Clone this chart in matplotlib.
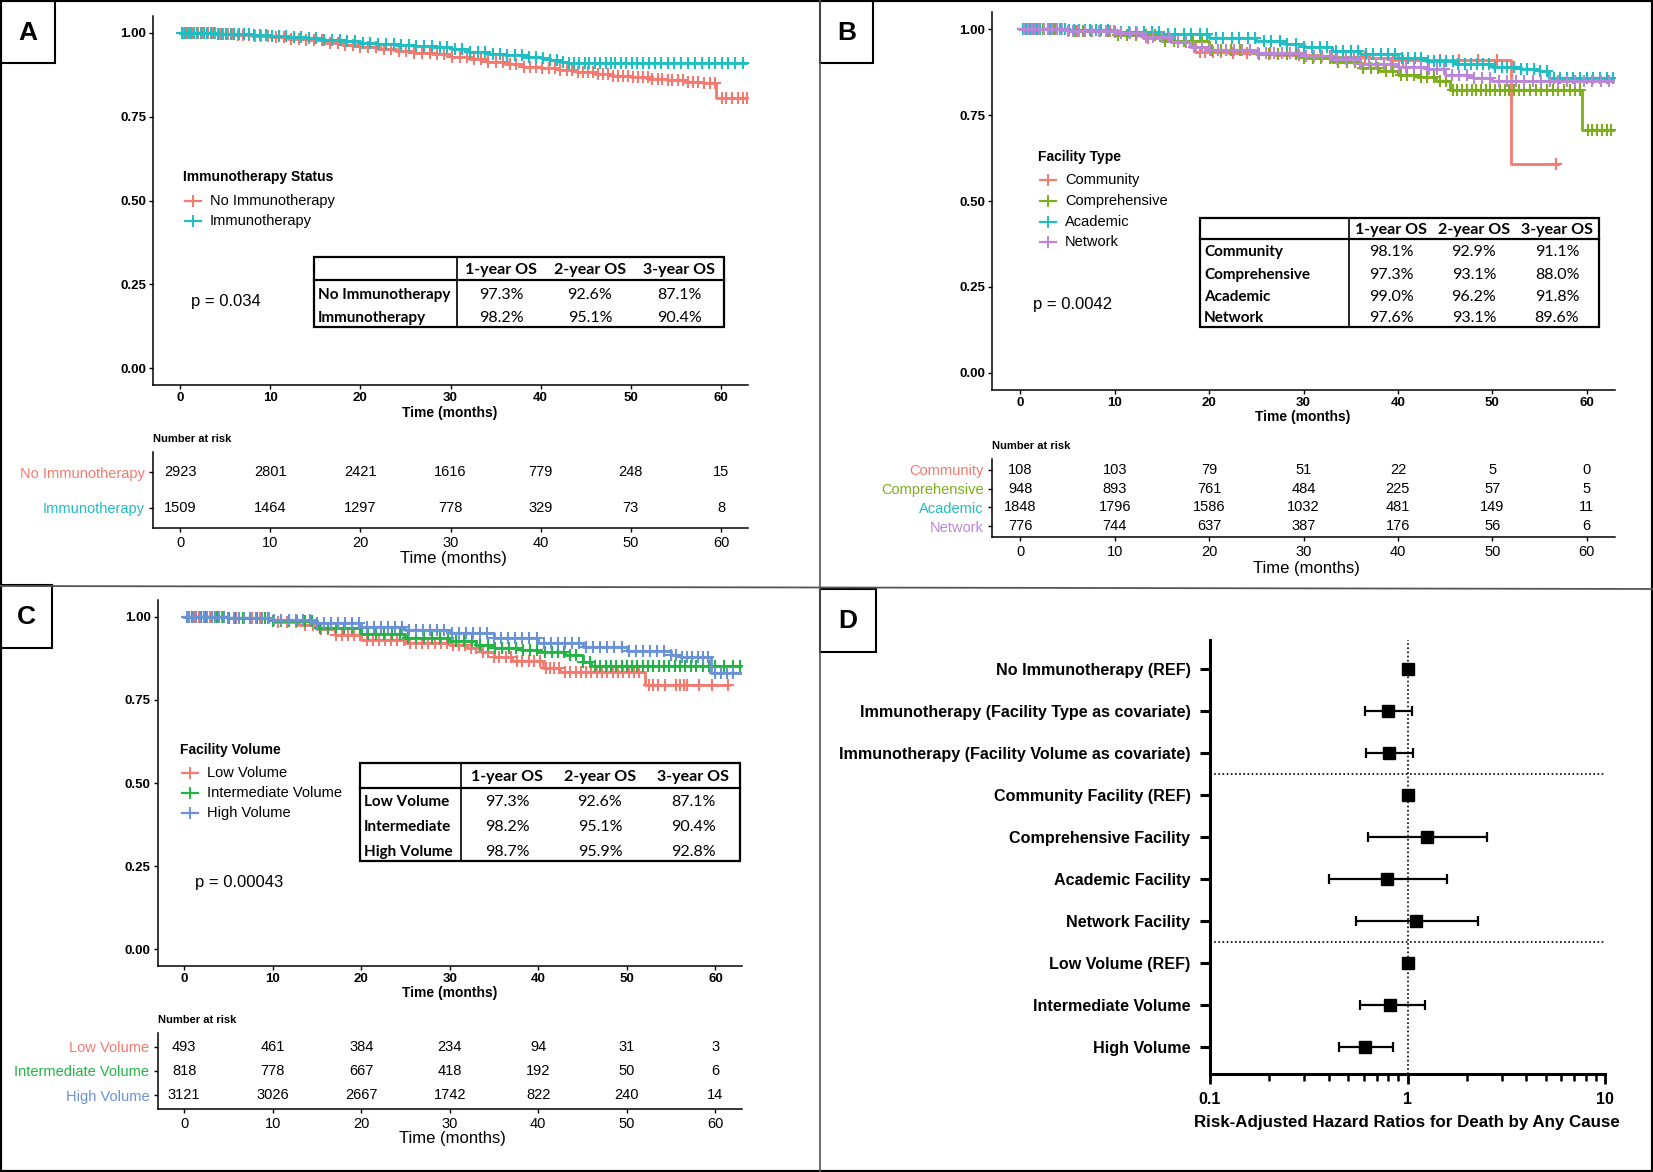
import numpy as np
import matplotlib.pyplot as plt
from matplotlib.lines import Line2D
from matplotlib.patches import Rectangle

plt.rcParams['font.family'] = ['Liberation Sans', 'DejaVu Sans']
TABLE_FONT = ['Lato', 'Liberation Sans', 'DejaVu Sans']

W, H = 1653, 1172

# -----------------------------
# Data: panel A (immunotherapy)
# -----------------------------
a_groups = ["No Immunotherapy", "Immunotherapy"]
a_colors = ["#F37A70", "#1FBEC3"]
a_t_no = [0, 2, 4, 6, 8, 10, 12, 14, 16, 18, 20, 22, 24, 26, 28, 30, 32, 34, 36, 38, 40,
          42, 44, 46, 48, 50, 52, 54, 56, 58, 59.5, 63]
a_s_no = [1.0, 0.998, 0.995, 0.992, 0.989, 0.986, 0.982, 0.977, 0.971, 0.964, 0.957, 0.951,
          0.946, 0.941, 0.936, 0.929, 0.921, 0.913, 0.906, 0.899, 0.894, 0.889, 0.883, 0.876,
          0.871, 0.867, 0.862, 0.858, 0.852, 0.849, 0.806, 0.806]
a_c_no = [0.3, 0.7, 1.0, 1.3, 1.6, 2.0, 2.4, 2.7, 3.1, 3.5, 3.9, 4.4, 4.8, 5.3, 5.9, 6.4, 7.0,
          7.7, 8.3, 9.0, 9.8, 10.6, 11.5, 12.3, 13.2, 14.0, 14.9, 15.8, 16.6, 17.5, 18.3, 19.2,
          20.0, 20.9, 21.7, 22.6, 23.4, 24.3, 25.1, 26.0, 26.8, 27.7, 28.5, 29.3, 30.2, 31.0,
          31.8, 32.6, 33.4, 34.2, 35.0, 35.8, 36.6, 37.3, 38.1, 38.8, 39.5, 40.2, 40.9, 41.6,
          42.2, 42.9, 43.5, 44.1, 44.7, 45.3, 45.8, 46.4, 46.9, 47.5, 48.0, 48.6, 49.1, 49.7,
          50.2, 50.8, 51.3, 51.9, 52.4, 53.0, 53.5, 54.1, 54.6, 55.2, 55.8, 56.3, 56.9, 57.5,
          58.1, 58.8, 59.3, 60.1, 60.6, 61.2, 61.9, 62.5, 62.9]
a_t_im = [0, 2, 4, 6, 8, 10, 12, 14, 16, 18, 20, 22, 24, 26, 28, 30, 32, 34, 36, 38, 40,
          41, 42, 43, 63]
a_s_im = [1.0, 0.999, 0.997, 0.995, 0.993, 0.991, 0.988, 0.984, 0.979, 0.974, 0.970, 0.967,
          0.965, 0.962, 0.958, 0.952, 0.944, 0.938, 0.933, 0.929, 0.924, 0.918, 0.912, 0.909, 0.909]
a_c_im = [0.2, 0.5, 0.9, 1.2, 1.6, 1.9, 2.3, 2.7, 3.0, 3.4, 3.8, 4.2, 4.7, 5.1, 5.6, 6.0, 6.5,
          7.1, 7.6, 8.2, 8.9, 9.5, 10.2, 11.0, 11.8, 12.6, 13.4, 14.3, 15.1, 16.0, 16.8, 17.7,
          18.5, 19.4, 20.3, 21.1, 22.0, 22.8, 23.7, 24.5, 25.4, 26.2, 27.1, 27.9, 28.8, 29.6,
          30.5, 31.3, 32.2, 33.0, 33.8, 34.7, 35.5, 36.3, 37.1, 37.9, 38.7, 39.5, 40.3, 41.0,
          41.8, 42.5, 43.1, 43.7, 44.3, 44.9, 45.4, 46.0, 46.6, 47.2, 47.8, 48.3, 48.9, 49.5,
          50.1, 50.7, 51.4, 52.0, 52.7, 53.4, 54.1, 54.8, 55.6, 56.3, 57.1, 57.9, 58.7, 59.3,
          60.1, 60.8, 61.6, 62.4]
a_risk = [[2923, 2801, 2421, 1616, 779, 248, 15],
          [1509, 1464, 1297, 778, 329, 73, 8]]
a_table = [["97.3%", "92.6%", "87.1%"],
           ["98.2%", "95.1%", "90.4%"]]
a_p = "p = 0.034"

# -----------------------------
# Data: panel B (facility type)
# -----------------------------
b_groups = ["Community", "Comprehensive", "Academic", "Network"]
b_colors = ["#F37A70", "#7CAE1A", "#1FBEC3", "#BA86D6"]
b_t_com = [0, 5, 10, 13, 16, 18.5, 22, 27, 32, 37, 39.5, 52, 57]
b_s_com = [1.0, 0.995, 0.985, 0.975, 0.962, 0.935, 0.93, 0.925, 0.92, 0.915, 0.911, 0.608, 0.608]
b_c_com = [1.5, 3.5, 6, 9.5, 13.5, 19.0, 19.6, 20.4, 21.3, 22.5, 24.0, 26.5, 29.5, 33, 36.5,
           39.5, 40.5, 42.5, 44.5, 46.5, 48.5, 50.5, 56.8]
b_t_cmp = [0, 5, 10, 15, 20, 25, 30, 33, 36, 38, 40, 42, 44, 45.5, 59.5, 63]
b_s_cmp = [1.0, 0.995, 0.983, 0.965, 0.94, 0.927, 0.915, 0.905, 0.888, 0.877, 0.868, 0.86,
           0.848, 0.823, 0.707, 0.707]
b_c_cmp = [0.3, 0.8, 1.3, 1.8, 2.4, 3.0, 3.6, 4.3, 5.0, 5.8, 6.6, 7.5, 8.4, 9.3, 10.3, 11.3,
           12.3, 13.3, 14.3, 15.3, 16.3, 17.3, 18.3, 19.3, 20.3, 21.3, 22.3, 23.3, 24.3, 25.3,
           26.3, 27.3, 28.3, 29.2, 30.1, 31.0, 31.9, 32.8, 33.7, 34.6, 35.5, 36.3, 37.1, 37.9,
           38.7, 39.5, 40.3, 41.0, 41.7, 42.4, 43.1, 43.8, 44.5, 45.1, 45.8, 46.3, 46.8, 47.3,
           47.8, 48.3, 48.8, 49.3, 49.8, 50.3, 50.8, 51.3, 51.8, 52.3, 52.8, 53.4, 54.0, 54.6,
           55.2, 55.8, 56.4, 57.0, 57.6, 58.2, 58.8, 59.3, 60.1, 60.6, 61.1, 61.6, 62.1, 62.6]
b_t_aca = [0, 5, 10, 15, 20, 25, 28, 30, 33, 36, 40, 43, 46, 50, 53, 55, 56, 63]
b_s_aca = [1.0, 0.998, 0.993, 0.985, 0.975, 0.965, 0.957, 0.948, 0.937, 0.927, 0.916, 0.908,
           0.9, 0.891, 0.885, 0.877, 0.857, 0.857]
b_c_aca = [0.3, 0.6, 1.0, 1.3, 1.7, 2.1, 2.5, 2.9, 3.3, 3.8, 4.2, 4.7, 5.2, 5.7, 6.2, 6.8, 7.4,
           8.0, 8.6, 9.3, 10.0, 10.7, 11.5, 12.3, 13.1, 13.9, 14.7, 15.6, 16.4, 17.3, 18.1,
           19.0, 19.8, 20.7, 21.5, 22.4, 23.2, 24.1, 24.9, 25.8, 26.6, 27.5, 28.3, 29.2, 30.0,
           30.9, 31.7, 32.5, 33.4, 34.2, 35.0, 35.8, 36.6, 37.4, 38.2, 38.9, 39.7, 40.4, 41.1,
           41.8, 42.5, 43.2, 43.8, 44.5, 45.1, 45.8, 46.4, 47.1, 47.7, 48.4, 49.0, 49.7, 50.3,
           51.0, 51.6, 52.3, 53.0, 53.7, 54.4, 55.1, 55.8, 56.5, 57.2, 57.9, 58.6, 59.3, 60.0,
           60.7, 61.4, 62.1, 62.8]
b_t_net = [0, 5, 10, 13, 16, 18, 20, 25, 30, 33, 36, 40, 43, 45, 48, 50, 63]
b_s_net = [1.0, 0.996, 0.988, 0.978, 0.962, 0.948, 0.94, 0.932, 0.922, 0.912, 0.9, 0.891,
           0.883, 0.867, 0.857, 0.848, 0.848]
b_c_net = [0.4, 0.8, 1.2, 1.6, 2.0, 2.5, 2.9, 3.4, 3.9, 4.4, 5.0, 5.6, 6.2, 6.9, 7.6, 8.3, 9.1,
           9.9, 10.7, 11.6, 12.4, 13.3, 14.1, 15.0, 15.8, 16.7, 17.5, 18.4, 19.2, 20.1, 20.9,
           21.8, 22.6, 23.5, 24.3, 25.2, 26.0, 26.9, 27.7, 28.6, 29.4, 30.3, 31.1, 32.0, 32.8,
           33.6, 34.5, 35.3, 36.1, 36.9, 37.7, 38.5, 39.3, 40.1, 40.9, 41.7, 42.5, 43.3, 44.1,
           44.9, 45.7, 46.5, 47.3, 48.1, 48.9, 49.8, 50.7, 51.6, 52.5, 53.4, 54.3, 55.2, 56.1,
           57.0, 57.9, 58.8, 59.7, 60.6, 61.5, 62.4]
b_risk = [[108, 103, 79, 51, 22, 5, 0],
          [948, 893, 761, 484, 225, 57, 5],
          [1848, 1796, 1586, 1032, 481, 149, 11],
          [776, 744, 637, 387, 176, 56, 6]]
b_table = [["98.1%", "92.9%", "91.1%"],
           ["97.3%", "93.1%", "88.0%"],
           ["99.0%", "96.2%", "91.8%"],
           ["97.6%", "93.1%", "89.6%"]]
b_p = "p = 0.0042"

# -----------------------------
# Data: panel C (facility volume)
# -----------------------------
c_groups = ["Low Volume", "Intermediate Volume", "High Volume"]
c_rows = ["Low Volume", "Intermediate", "High Volume"]
c_colors = ["#F37A70", "#22B444", "#6A93D6"]
c_t_low = [0, 5, 10, 13, 15, 17, 20, 25, 30, 32, 33.5, 35, 37, 40.5, 42.5, 52, 61.5]
c_s_low = [1.0, 0.995, 0.985, 0.975, 0.962, 0.945, 0.93, 0.922, 0.915, 0.905, 0.893, 0.878,
           0.866, 0.845, 0.835, 0.796, 0.796]
c_c_low = [0.6, 1.1, 1.7, 2.3, 2.9, 3.6, 4.3, 5.1, 5.9, 6.8, 7.7, 8.6, 9.6, 10.6, 11.6, 12.6,
           13.6, 14.6, 15.5, 16.3, 17.1, 17.8, 18.5, 19.2, 19.9, 20.6, 21.3, 22.0, 22.7, 23.4,
           24.1, 24.8, 25.5, 26.2, 26.9, 27.6, 28.3, 29.0, 29.7, 30.4, 31.1, 31.7, 32.4, 33.0,
           33.7, 34.3, 35.0, 35.6, 36.3, 36.9, 37.6, 38.2, 38.9, 39.5, 40.2, 40.9, 41.3, 41.8,
           42.3, 43.0, 43.6, 44.2, 44.8, 45.4, 46.0, 46.6, 47.2, 47.8, 48.4, 49.0, 49.6, 50.2,
           50.8, 51.4, 52.5, 53.0, 53.5, 54.3, 55.6, 56.0, 56.4, 56.8, 58.2, 59.6, 61.4]
c_t_int = [0, 5, 10, 15, 20, 25, 30, 33, 35, 38, 40, 43, 45, 46, 63]
c_s_int = [1.0, 0.996, 0.986, 0.965, 0.948, 0.937, 0.927, 0.915, 0.905, 0.9, 0.895, 0.885,
           0.865, 0.852, 0.852]
c_c_int = [0.4, 0.9, 1.4, 1.9, 2.5, 3.1, 3.7, 4.4, 5.1, 5.8, 6.6, 7.4, 8.2, 9.1, 10.0, 10.9,
           11.8, 12.7, 13.6, 14.5, 15.4, 16.3, 17.2, 18.1, 19.0, 19.9, 20.8, 21.7, 22.6, 23.5,
           24.4, 25.3, 26.2, 27.1, 28.0, 28.9, 29.8, 30.7, 31.6, 32.5, 33.4, 34.3, 35.1, 35.9,
           36.7, 37.5, 38.3, 39.1, 39.9, 40.7, 41.5, 42.2, 42.9, 43.6, 44.3, 45.0, 45.8, 46.4,
           47.0, 47.6, 48.2, 48.8, 49.4, 50.0, 50.6, 51.2, 51.8, 52.4, 53.0, 53.6, 54.2, 54.8,
           55.4, 56.0, 56.6, 57.2, 57.8, 58.6, 59.3, 60.0, 61.0, 62.0, 62.8]
c_t_high = [0, 5, 10, 15, 20, 25, 30, 35, 40, 45, 50, 55, 56, 59.5, 63]
c_s_high = [1.0, 0.997, 0.99, 0.98, 0.97, 0.96, 0.95, 0.935, 0.92, 0.91, 0.898, 0.885, 0.878,
            0.83, 0.83]
c_c_high = [0.3, 0.6, 1.0, 1.4, 1.8, 2.2, 2.6, 3.1, 3.5, 4.0, 4.5, 5.0, 5.6, 6.2, 6.8, 7.4,
            8.1, 8.8, 9.5, 10.2, 11.0, 11.8, 12.6, 13.4, 14.2, 15.0, 15.8, 16.6, 17.4, 18.2,
            19.0, 19.8, 20.6, 21.4, 22.2, 23.0, 23.8, 24.6, 25.4, 26.2, 27.0, 27.8, 28.6, 29.4,
            30.2, 31.0, 31.8, 32.6, 33.4, 34.2, 35.0, 35.8, 36.6, 37.4, 38.2, 39.0, 39.8, 40.6,
            41.4, 42.2, 43.0, 43.8, 44.6, 45.4, 46.2, 47.0, 47.8, 48.6, 49.4, 50.2, 51.0, 51.8,
            52.6, 53.4, 54.2, 55.0, 55.6, 56.2, 56.8, 57.4, 58.0, 58.6, 59.2, 60.0, 60.6, 61.3,
            62.0]
c_risk = [[493, 461, 384, 234, 94, 31, 3],
          [818, 778, 667, 418, 192, 50, 6],
          [3121, 3026, 2667, 1742, 822, 240, 14]]
c_table = [["97.3%", "92.6%", "87.1%"],
           ["98.2%", "95.1%", "90.4%"],
           ["98.7%", "95.9%", "92.8%"]]
c_p = "p = 0.00043"

risk_times = [0, 10, 20, 30, 40, 50, 60]
table_cols = ["1-year OS", "2-year OS", "3-year OS"]

# -----------------------------
# Data: panel D (hazard ratios)
# -----------------------------
d_labels = ["No Immunotherapy (REF)",
            "Immunotherapy (Facility Type as covariate)",
            "Immunotherapy (Facility Volume as covariate)",
            "Community Facility (REF)",
            "Comprehensive Facility",
            "Academic Facility",
            "Network Facility",
            "Low Volume (REF)",
            "Intermediate Volume",
            "High Volume"]
d_hr = [1.0, 0.80, 0.81, 1.0, 1.26, 0.79, 1.10, 1.0, 0.82, 0.61]
d_lo = [np.nan, 0.61, 0.62, np.nan, 0.63, 0.40, 0.55, np.nan, 0.575, 0.45]
d_hi = [np.nan, 1.05, 1.07, np.nan, 2.53, 1.59, 2.27, np.nan, 1.22, 0.84]

fig = plt.figure(figsize=(W / 100, H / 100), dpi=100)


def px_axes(l, t, r, b):
    return fig.add_axes([l / W, 1 - b / H, (r - l) / W, (b - t) / H])


def ftext(x, y, s, **kw):
    fig.text(x / W, 1 - y / H, s, **kw)


def fline(xs, ys, **kw):
    fig.add_artist(Line2D([x / W for x in xs], [1 - y / H for y in ys], **kw))


def km_axes(box, curves, colors):
    ax = px_axes(*box)
    for (t, s, cens), col in zip(curves, colors):
        ax.step(t, s, where='post', color=col, lw=2.0)
        s_arr = np.array(s)
        idx = np.searchsorted(np.array(t), cens, side='right') - 1
        ax.plot(cens, s_arr[idx], ls='none', marker='+', ms=8, mew=1.5, color=col)
    ax.set_xlim(-3, 63)
    ax.set_ylim(-0.05, 1.05)
    ax.set_xticks(risk_times)
    ax.set_yticks([0, 0.25, 0.5, 0.75, 1.0])
    ax.set_yticklabels(["0.00", "0.25", "0.50", "0.75", "1.00"])
    for sp in ["top", "right"]:
        ax.spines[sp].set_visible(False)
    for sp in ["left", "bottom"]:
        ax.spines[sp].set_linewidth(1.1)
    ax.tick_params(length=3, width=1, pad=2, labelsize=9.5)
    for lbl in ax.get_xticklabels() + ax.get_yticklabels():
        lbl.set_fontweight('bold')
    return ax


def risk_axes(box, groups, colors, counts, title_y, xlab_y):
    ax = px_axes(*box)
    n = len(groups)
    ax.set_xlim(-3, 63)
    ax.set_ylim(-0.58, n - 1 + 0.58)
    for i, row in enumerate(counts):
        for t, v in zip(risk_times, row):
            ax.text(t, n - 1 - i, str(v), ha='center', va='center', fontsize=10.5)
    ax.set_yticks([n - 1 - i for i in range(n)])
    ax.set_yticklabels(groups, fontsize=10.5)
    for lbl, col in zip(ax.get_yticklabels(), colors):
        lbl.set_color(col)
    ax.set_xticks(risk_times)
    ax.tick_params(length=3, width=1, pad=3, labelsize=10.5)
    for sp in ["top", "right"]:
        ax.spines[sp].set_visible(False)
    for sp in ["left", "bottom"]:
        ax.spines[sp].set_linewidth(1.1)
    l, t, r, b = box
    ftext(l, title_y, "Number at risk", fontsize=8, fontweight='bold', ha='left', va='center')
    ftext((l + r) / 2 + 3, xlab_y, "Time (months)", fontsize=12, ha='center', va='center')
    return ax


def legend_block(x, y_title, ys, title, groups, colors):
    ftext(x, y_title, title, fontsize=10, fontweight='bold', ha='left', va='center')
    for yy, g, col in zip(ys, groups, colors):
        fline([x + 2, x + 18], [yy, yy], color=col, lw=1.6)
        fig.add_artist(Line2D([(x + 10) / W], [1 - yy / H], marker='+', ms=8, mew=1.4,
                              color=col, ls='none'))
        ftext(x + 27, yy, g, fontsize=10.5, ha='left', va='center')


def os_table(l, t, r, b, div, hdr_bot, hdr_y, col_x, row_y, rows, vals):
    fig.add_artist(Rectangle((l / W, 1 - b / H), (r - l) / W, (b - t) / H, fill=False,
                             lw=1.6, ec='black', transform=fig.transFigure))
    fline([div, div], [t, b], color='black', lw=1.2)
    fline([l, r], [hdr_bot, hdr_bot], color='black', lw=1.6)
    for cx, c in zip(col_x, table_cols):
        ftext(cx, hdr_y, c, fontsize=11.5, fontweight='bold', ha='center', va='center',
              family=TABLE_FONT)
    for ry, name, row in zip(row_y, rows, vals):
        ftext(l + 4, ry, name, fontsize=11, fontweight='bold', ha='left', va='center',
              family=TABLE_FONT)
        for cx, v in zip(col_x, row):
            ftext(cx, ry, v, fontsize=11.5, ha='center', va='center', family=TABLE_FONT)


def panel_label(l, t, r, b, s):
    fig.add_artist(Rectangle((l / W, 1 - b / H), (r - l) / W, (b - t) / H, fill=True,
                             fc='white', lw=1.5, ec='black', transform=fig.transFigure))
    ftext((l + r) / 2, (t + b) / 2 + 1, s, fontsize=19, fontweight='bold',
          ha='center', va='center')


# -----------------------------
# Panel A
# -----------------------------
km_axes((153, 16, 748, 385),
        [(a_t_no, a_s_no, a_c_no), (a_t_im, a_s_im, a_c_im)], a_colors)
ftext(450, 413, "Time (months)", fontsize=10, fontweight='bold', ha='center', va='center')
legend_block(183, 177, [201, 221], "Immunotherapy Status", a_groups, a_colors)
ftext(191, 302, a_p, fontsize=12, ha='left', va='center')
os_table(314, 257, 724, 327, 457, 280, 270, [501, 590, 679], [295, 318], a_groups, a_table)
risk_axes((153, 452, 748, 528), a_groups, a_colors, a_risk, 439, 558)
panel_label(0, 0, 55, 63, "A")

# -----------------------------
# Panel B
# -----------------------------
km_axes((992, 12, 1615, 390),
        [(b_t_com, b_s_com, b_c_com), (b_t_cmp, b_s_cmp, b_c_cmp),
         (b_t_aca, b_s_aca, b_c_aca), (b_t_net, b_s_net, b_c_net)], b_colors)
ftext(1303, 417, "Time (months)", fontsize=10, fontweight='bold', ha='center', va='center')
legend_block(1038, 157, [180, 201, 222, 242], "Facility Type", b_groups, b_colors)
ftext(1033, 304, b_p, fontsize=12, ha='left', va='center')
os_table(1200, 218, 1599, 327, 1349, 239, 230, [1391, 1474, 1557], [252, 275, 297, 318],
         b_groups, b_table)
risk_axes((992, 459, 1615, 537), b_groups, b_colors, b_risk, 446, 568)
panel_label(820, 0, 873, 63, "B")

# -----------------------------
# Panel C
# -----------------------------
km_axes((157.5, 600, 742, 966),
        [(c_t_low, c_s_low, c_c_low), (c_t_int, c_s_int, c_c_int),
         (c_t_high, c_s_high, c_c_high)], c_colors)
ftext(450, 993, "Time (months)", fontsize=10, fontweight='bold', ha='center', va='center')
legend_block(180, 750, [773, 793, 813], "Facility Volume", c_groups, c_colors)
ftext(195, 883, c_p, fontsize=12, ha='left', va='center')
os_table(360, 763, 740, 861, 461, 788, 777, [507, 600, 693], [802, 827, 852], c_rows, c_table)
risk_axes((157.5, 1033, 742, 1109), c_groups, c_colors, c_risk, 1020, 1138)
panel_label(0, 585, 52, 648, "C")

# -----------------------------
# Panel D (forest plot)
# -----------------------------
axd = px_axes(1210, 640, 1605, 1074)
rows_d = np.arange(len(d_labels))
hr = np.array(d_hr)
lo = np.array(d_lo)
hi = np.array(d_hi)
has_ci = ~np.isnan(lo)
axd.errorbar(hr[has_ci], rows_d[has_ci], xerr=[hr[has_ci] - lo[has_ci], hi[has_ci] - hr[has_ci]],
             fmt='none', ecolor='black', elinewidth=1.6, capsize=3.5, capthick=1.6)
axd.plot(hr, rows_d, ls='none', marker='s', ms=8, color='black')
axd.axvline(1, color='black', ls=(0, (1, 1.5)), lw=1.2)
axd.axhline(2.5, color='black', ls=(0, (1, 1.5)), lw=1.2)
axd.axhline(6.5, color='black', ls=(0, (1, 1.5)), lw=1.2)
axd.set_xscale('log')
axd.set_xlim(0.1, 10)
axd.set_ylim(9.64, -0.69)
axd.set_yticks(rows_d)
axd.set_yticklabels(d_labels, fontsize=11.6, fontweight='bold')
axd.set_xticks([0.1, 1, 10])
axd.set_xticklabels(["0.1", "1", "10"], fontsize=11.5, fontweight='bold')
for sp in ["top", "right"]:
    axd.spines[sp].set_visible(False)
for sp in ["left", "bottom"]:
    axd.spines[sp].set_linewidth(2.2)
axd.tick_params(axis='y', length=7, width=2.2, pad=7)
axd.tick_params(axis='x', which='major', length=7, width=2.0, pad=6)
axd.tick_params(axis='x', which='minor', length=5, width=1.8)
ftext(1407, 1123, "Risk-Adjusted Hazard Ratios for Death by Any Cause", fontsize=12.2,
      fontweight='bold', ha='center', va='center')
panel_label(820, 589, 876, 652, "D")

# -----------------------------
# Panel dividers and outer frame
# -----------------------------
fline([820, 820], [0, H], color='#555555', lw=1.2)
fline([0, W], [586, 589], color='#555555', lw=1.3)
fig.add_artist(Rectangle((0, 0), 1, 1, fill=False, lw=3, ec='black', transform=fig.transFigure))

fig.savefig("out.png", dpi=100)
